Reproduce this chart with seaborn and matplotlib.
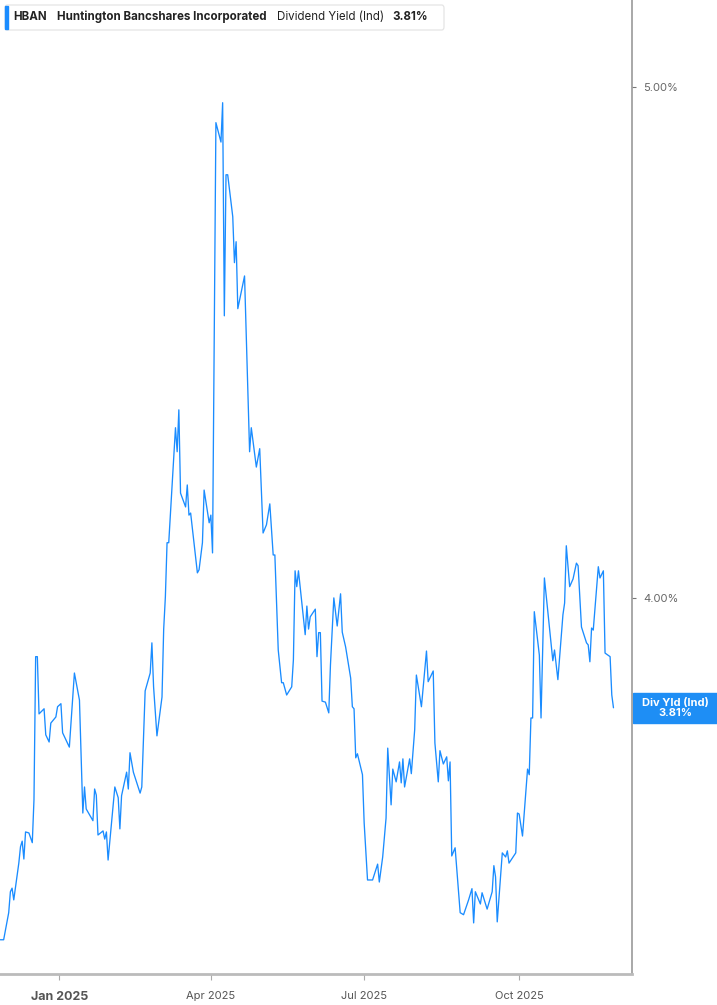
import pandas as pd
import matplotlib.pyplot as plt
from matplotlib.patches import FancyBboxPatch, Rectangle
import seaborn as sns

# dividend yield (%)
dates = [
    "2024-11-27", "2024-11-29",
    "2024-12-02", "2024-12-03", "2024-12-04", "2024-12-05", "2024-12-08", "2024-12-09", "2024-12-10",
    "2024-12-11", "2024-12-12", "2024-12-14", "2024-12-16", "2024-12-17", "2024-12-18", "2024-12-19",
    "2024-12-20", "2024-12-23", "2024-12-24", "2024-12-26", "2024-12-27", "2024-12-30", "2024-12-31",
    "2025-01-02", "2025-01-03", "2025-01-07", "2025-01-10", "2025-01-13", "2025-01-15", "2025-01-16",
    "2025-01-17", "2025-01-21", "2025-01-22", "2025-01-23", "2025-01-24", "2025-01-27", "2025-01-28",
    "2025-01-29", "2025-01-30",
    "2025-02-03", "2025-02-05", "2025-02-06", "2025-02-07", "2025-02-10", "2025-02-11", "2025-02-12",
    "2025-02-14", "2025-02-18", "2025-02-19", "2025-02-21", "2025-02-24", "2025-02-25", "2025-02-26",
    "2025-02-28",
    "2025-03-03", "2025-03-04", "2025-03-05", "2025-03-06", "2025-03-07", "2025-03-11", "2025-03-12",
    "2025-03-13", "2025-03-14", "2025-03-17", "2025-03-18", "2025-03-19", "2025-03-20", "2025-03-24",
    "2025-03-25", "2025-03-27", "2025-03-28", "2025-03-31",
    "2025-04-01", "2025-04-02", "2025-04-04", "2025-04-07", "2025-04-08", "2025-04-09", "2025-04-10",
    "2025-04-11", "2025-04-14", "2025-04-15", "2025-04-16", "2025-04-17", "2025-04-21", "2025-04-24",
    "2025-04-25", "2025-04-28", "2025-04-30",
    "2025-05-02", "2025-05-04", "2025-05-06", "2025-05-08", "2025-05-09", "2025-05-11", "2025-05-13",
    "2025-05-14", "2025-05-16", "2025-05-19", "2025-05-20", "2025-05-21", "2025-05-22", "2025-05-23",
    "2025-05-25", "2025-05-27", "2025-05-28", "2025-05-29", "2025-05-30",
    "2025-06-02", "2025-06-03", "2025-06-04", "2025-06-05", "2025-06-06", "2025-06-08", "2025-06-10",
    "2025-06-11", "2025-06-13", "2025-06-15", "2025-06-17", "2025-06-18", "2025-06-20", "2025-06-23",
    "2025-06-24", "2025-06-25", "2025-06-26", "2025-06-27", "2025-06-30",
    "2025-07-01", "2025-07-03", "2025-07-06", "2025-07-09", "2025-07-10", "2025-07-12", "2025-07-14",
    "2025-07-15", "2025-07-17", "2025-07-18", "2025-07-20", "2025-07-22", "2025-07-23", "2025-07-24",
    "2025-07-25", "2025-07-28", "2025-07-29", "2025-07-31",
    "2025-08-01", "2025-08-04", "2025-08-07", "2025-08-08", "2025-08-11", "2025-08-12", "2025-08-14",
    "2025-08-15", "2025-08-17", "2025-08-19", "2025-08-20", "2025-08-21", "2025-08-22", "2025-08-24",
    "2025-08-27", "2025-08-29",
    "2025-09-01", "2025-09-03", "2025-09-04", "2025-09-05", "2025-09-08", "2025-09-09", "2025-09-12",
    "2025-09-15", "2025-09-16", "2025-09-17", "2025-09-18", "2025-09-21", "2025-09-23", "2025-09-24",
    "2025-09-25", "2025-09-29", "2025-09-30",
    "2025-10-01", "2025-10-03", "2025-10-06", "2025-10-07", "2025-10-08", "2025-10-09", "2025-10-10",
    "2025-10-13", "2025-10-14", "2025-10-16", "2025-10-21", "2025-10-22", "2025-10-24", "2025-10-27",
    "2025-10-28", "2025-10-29", "2025-10-31",
    "2025-11-02", "2025-11-04", "2025-11-05", "2025-11-07", "2025-11-10", "2025-11-11", "2025-11-12",
    "2025-11-13", "2025-11-14", "2025-11-17", "2025-11-18", "2025-11-20", "2025-11-21", "2025-11-24",
    "2025-11-25", "2025-11-26",
]
yields = [
    3.331, 3.331,
    3.384, 3.425, 3.432, 3.409, 3.481, 3.513, 3.524,
    3.489, 3.542, 3.540, 3.521, 3.605, 3.885, 3.885,
    3.773, 3.783, 3.732, 3.718, 3.755, 3.767, 3.787,
    3.793, 3.736, 3.708, 3.853, 3.800, 3.579, 3.630,
    3.587, 3.564, 3.626, 3.614, 3.536, 3.544, 3.528,
    3.542, 3.487,
    3.630, 3.609, 3.548, 3.613, 3.659, 3.626, 3.697,
    3.659, 3.618, 3.630, 3.818, 3.853, 3.912, 3.826,
    3.730,
    3.806, 3.939, 4.002, 4.108, 4.108, 4.333, 4.286,
    4.368, 4.205, 4.178, 4.221, 4.162, 4.166, 4.049,
    4.055, 4.108, 4.211, 4.147,
    4.162, 4.088, 4.930, 4.892, 4.969, 4.552, 4.828,
    4.828, 4.746, 4.656, 4.697, 4.566, 4.630, 4.286,
    4.333, 4.256, 4.292,
    4.127, 4.143, 4.184, 4.084, 4.084, 3.898, 3.834,
    3.834, 3.810, 3.826, 3.879, 4.053, 4.022, 4.053,
    3.990, 3.928, 3.984, 3.939, 3.963,
    3.978, 3.885, 3.932, 3.932, 3.798, 3.796, 3.775,
    3.869, 4.000, 3.945, 4.008, 3.933, 3.904, 3.843,
    3.787, 3.783, 3.687, 3.695, 3.654,
    3.560, 3.448, 3.448, 3.479, 3.444, 3.493, 3.569,
    3.706, 3.595, 3.665, 3.640, 3.679, 3.638, 3.685,
    3.630, 3.685, 3.656, 3.742,
    3.849, 3.787, 3.896, 3.836, 3.857, 3.716, 3.640,
    3.701, 3.675, 3.689, 3.642, 3.679, 3.495, 3.511,
    3.384, 3.380,
    3.409, 3.431, 3.364, 3.425, 3.401, 3.423, 3.391,
    3.425, 3.476, 3.454, 3.366, 3.501, 3.493, 3.505,
    3.481, 3.501, 3.579,
    3.577, 3.534, 3.665, 3.654, 3.765, 3.765, 3.973,
    3.888, 3.765, 4.039, 3.877, 3.898, 3.840, 3.967,
    3.990, 4.102, 4.022,
    4.037, 4.068, 4.063, 3.943, 3.912, 3.908, 3.875,
    3.941, 3.937, 4.061, 4.039, 4.053, 3.892, 3.885,
    3.810, 3.785,
]

ticker = "HBAN"
company = "Huntington Bancshares Incorporated"
metric = "Dividend Yield (Ind)"
last_text = "3.81%"
y_ticks = [4.0, 5.0]
x_ticks = ["2025-01-01", "2025-04-01", "2025-07-01", "2025-10-01"]
x_tick_labels = ["Jan 2025", "Apr 2025", "Jul 2025", "Oct 2025"]

df = pd.DataFrame({"date": pd.to_datetime(dates), "yield": yields})

sns.set_style("white")
plt.rcParams["font.family"] = ["Inter", "DejaVu Sans"]

W, H = 717, 1005
blue = "#1a8cff"

fig = plt.figure(figsize=(W / 100, H / 100), dpi=100)
ax = fig.add_axes([0, 31 / H, 632 / W, 1 - 31 / H])

sns.lineplot(data=df, x="date", y="yield", ax=ax, color=blue, linewidth=0.95)

ax.set_xlim(pd.Timestamp("2024-11-26 20:00"), pd.Timestamp("2025-12-07"))
ax.set_ylim(3.264, 5.170)
ax.set_xlabel("")
ax.set_ylabel("")

# y axis on the right
ax.yaxis.tick_right()
ax.set_yticks(y_ticks)
ax.set_yticklabels([f"{v:.2f}%" for v in y_ticks])
ax.tick_params(axis="y", right=True, left=False, length=3, width=0.8,
               color="#777777", labelcolor="#666666", labelsize=8, pad=5)

ax.set_xticks(pd.to_datetime(x_ticks))
ax.set_xticklabels(x_tick_labels)
ax.tick_params(axis="x", bottom=True, length=4, width=0.8,
               color="#aaaaaa", labelcolor="#555555", labelsize=8, pad=8)
jan = ax.get_xticklabels()[0]
jan.set_fontweight("bold")
jan.set_fontsize(9)

for s in ["top", "left"]:
    ax.spines[s].set_visible(False)
ax.spines["right"].set_color("#999999")
ax.spines["right"].set_linewidth(1.2)
ax.spines["bottom"].set_color("#bbbbbb")
ax.spines["bottom"].set_linewidth(2)

# header box
fig.patches.append(FancyBboxPatch((5 / W, 1 - 30 / H), 439 / W, 25 / H,
                                  boxstyle="round,pad=0,rounding_size=0.003",
                                  transform=fig.transFigure, facecolor="white",
                                  edgecolor="#e2e2e2", linewidth=0.8))
fig.patches.append(Rectangle((5 / W, 1 - 29 / H), 3 / W, 23 / H,
                             transform=fig.transFigure, color=blue))
ty = 1 - 17 / H
fig.text(13 / W, ty, ticker, fontsize=8.3, fontweight="bold", color="#222222", va="center")
fig.text(57 / W, ty, company, fontsize=8.3, fontweight="bold", color="#222222", va="center")
fig.text(277 / W, ty, metric, fontsize=8.3, color="#222222", va="center")
fig.text(392 / W, ty, last_text, fontsize=8.3, fontweight="bold", color="#222222", va="center")

# last value label on the axis
last = df["yield"].iloc[-1]
half = 15 / 511
ax.add_patch(Rectangle((633 / 632, last - half), 84 / 632, 2 * half,
                       transform=ax.get_yaxis_transform(), color="#1e8ef5",
                       clip_on=False))
ax.text(675 / 632, last, "Div Yld (Ind)\n" + last_text, transform=ax.get_yaxis_transform(),
        ha="center", va="center", fontsize=8, fontweight="bold", color="white",
        linespacing=1.0, clip_on=False)

fig.savefig("out.png", dpi=100)
